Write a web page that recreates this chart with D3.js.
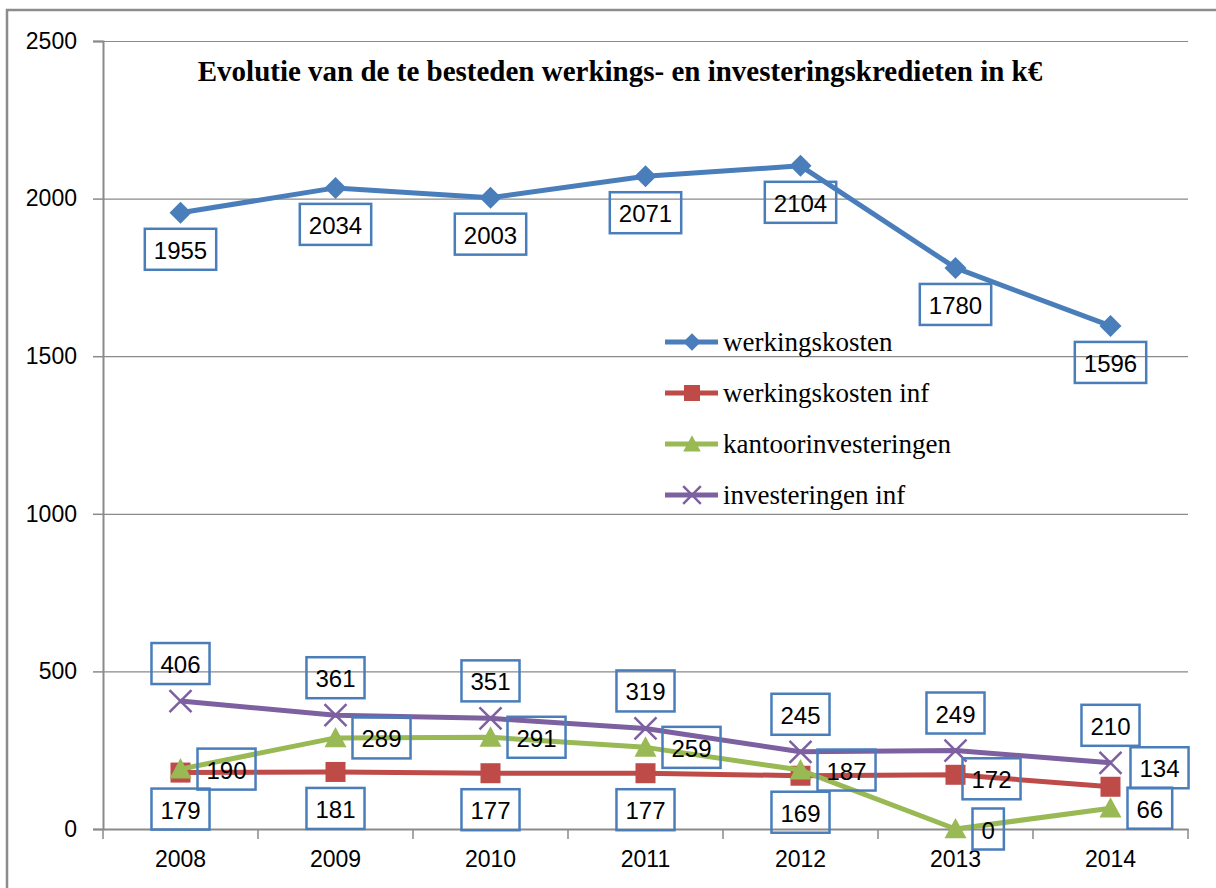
<!DOCTYPE html>
<html>
<head>
<meta charset="utf-8">
<script src="https://cdn.jsdelivr.net/npm/d3@7"></script>
<style>
  body { margin: 0; background: #ffffff; }
</style>
</head>
<body>
<svg id="chart"></svg>
<script>
// chart values
const years = ["2008", "2009", "2010", "2011", "2012", "2013", "2014"];
const werkingskosten = [1955, 2034, 2003, 2071, 2104, 1780, 1596];
const werkingskostenInf = [179, 181, 177, 177, 169, 172, 134];
const kantoorinvesteringen = [190, 289, 291, 259, 187, 0, 66];
const investeringenInf = [406, 361, 351, 319, 245, 249, 210];
const seriesNames = ["werkingskosten", "werkingskosten inf", "kantoorinvesteringen", "investeringen inf"];
const yTicks = [0, 500, 1000, 1500, 2000, 2500];
const title = "Evolutie van de te besteden werkings- en investeringskredieten in k€";

const width = 1216, height = 888;
const margin = {top: 41, bottom: 59, left: 103, right: 28};

const svg = d3.select("#chart")
    .attr("width", width)
    .attr("height", height)
    .style("background", "#ffffff");

// outer chart border (runs off right/bottom like the original)
svg.append("rect")
    .attr("x", 7).attr("y", 10)
    .attr("width", width + 20).attr("height", height + 20)
    .attr("fill", "none")
    .attr("stroke", "#8c8c8c")
    .attr("stroke-width", 2.5);

const xScale = d3.scaleBand()
    .domain(years)
    .range([margin.left, width - margin.right])
    .paddingInner(0).paddingOuter(0);
const xc = d => xScale(d) + xScale.bandwidth() / 2;

const yScale = d3.scaleLinear()
    .domain([0, 2500])
    .range([height - margin.bottom, margin.top]);

// gridlines
svg.append("g")
    .attr("transform", `translate(${margin.left},0)`)
    .call(d3.axisLeft(yScale).tickValues(yTicks.slice(1)).tickSize(-(width - margin.left - margin.right)).tickFormat(""))
    .call(g => g.select(".domain").remove())
    .call(g => g.selectAll("line").attr("stroke", "#8a8a8a").attr("stroke-width", 1.2));

// y axis
svg.append("g")
    .attr("transform", `translate(${margin.left},0)`)
    .call(d3.axisLeft(yScale).tickValues(yTicks).tickSize(10).tickPadding(16).tickFormat(d3.format("d")))
    .call(g => g.select(".domain").attr("stroke", "#8a8a8a").attr("stroke-width", 2))
    .call(g => g.selectAll("line").attr("stroke", "#8a8a8a").attr("stroke-width", 1.5))
    .call(g => g.selectAll("text")
        .style("font-family", "'Liberation Sans', Arial, sans-serif")
        .style("font-size", "23px")
        .attr("fill", "#000"));

// x axis (labels at centers, ticks between categories)
const xAxis = svg.append("g")
    .attr("transform", `translate(0,${height - margin.bottom})`)
    .call(d3.axisBottom(xScale).tickSize(0).tickPadding(22))
    .call(g => g.select(".domain").attr("stroke", "#8a8a8a").attr("stroke-width", 2))
    .call(g => g.selectAll("text")
        .style("font-family", "'Liberation Sans', Arial, sans-serif")
        .style("font-size", "23px")
        .attr("fill", "#000"));
const boundaries = years.map(d => xScale(d)).concat([xScale.range()[1]]);
xAxis.selectAll("line.bound")
    .data(boundaries)
    .join("line")
    .attr("class", "bound")
    .attr("x1", d => d).attr("x2", d => d)
    .attr("y1", 0).attr("y2", 10)
    .attr("stroke", "#8a8a8a").attr("stroke-width", 1.5);

// title
svg.append("text")
    .attr("x", 620)
    .attr("y", 81)
    .attr("text-anchor", "middle")
    .style("font-family", "'Liberation Serif', 'Times New Roman', serif")
    .style("font-weight", "bold")
    .style("font-size", "29px")
    .text(title);

// markers
function marker(g, type, color, s) {
  if (type === "diamond") {
    g.append("path").attr("d", `M0,${-s}L${s},0L0,${s}L${-s},0Z`).attr("fill", color);
  } else if (type === "square") {
    g.append("rect").attr("x", -s).attr("y", -s).attr("width", 2 * s).attr("height", 2 * s).attr("fill", color);
  } else if (type === "triangle") {
    g.append("path").attr("d", `M0,${-s}L${s},${s * 0.85}L${-s},${s * 0.85}Z`).attr("fill", color);
  } else if (type === "x") {
    g.append("path").attr("d", `M${-s},${-s}L${s},${s}M${-s},${s}L${s},${-s}`)
      .attr("stroke", color).attr("stroke-width", 2.5).attr("fill", "none");
  }
}

const series = [
  {name: seriesNames[0], values: werkingskosten, color: "#4a7ebb", marker: "diamond", ms: 11,
   place: ["below", "below", "below", "below", "below", "below", "below"], nudge: {}},
  {name: seriesNames[1], values: werkingskostenInf, color: "#be4b48", marker: "square", ms: 10,
   place: ["below", "below", "below", "below", "below", "right", "right"], nudge: {5: [-10, 4], 6: [3, -19]}},
  {name: seriesNames[2], values: kantoorinvesteringen, color: "#98b954", marker: "triangle", ms: 11,
   place: ["right", "right", "right", "right", "right", "right", "right"], nudge: {}},
  {name: seriesNames[3], values: investeringenInf, color: "#7d60a0", marker: "x", ms: 11,
   place: ["above", "above", "above", "above", "above", "above", "above"], nudge: {}}
];

const line = d3.line()
    .x(d => xc(d.year))
    .y(d => yScale(d.value));

series.forEach(s => {
  const data = years.map((y, i) => ({year: y, value: s.values[i]}));
  svg.append("path")
      .datum(data)
      .attr("fill", "none")
      .attr("stroke", s.color)
      .attr("stroke-width", 5)
      .attr("stroke-linejoin", "round")
      .attr("d", line);
  data.forEach(d => {
    const g = svg.append("g").attr("transform", `translate(${xc(d.year)},${yScale(d.value)})`);
    marker(g, s.marker, s.color, s.ms);
  });
});

// data labels
const labelLayer = svg.append("g");
series.forEach(s => {
  years.forEach((y, i) => {
    const px = xc(y), py = yScale(s.values[i]);
    const g = labelLayer.append("g");
    const t = g.append("text")
        .attr("text-anchor", "middle")
        .attr("dominant-baseline", "central")
        .style("font-family", "'Liberation Sans', Arial, sans-serif")
        .style("font-size", "24px")
        .text(s.values[i]);
    const w = t.node().getComputedTextLength() + 18, h = 41;
    let bx = px - w / 2, by = py + 16;
    if (s.place[i] === "above") by = py - 17 - h;
    if (s.place[i] === "right") { bx = px + 17; by = py - h / 2; }
    const n = s.nudge[i] || [0, 0];
    bx += n[0]; by += n[1];
    g.insert("rect", "text")
        .attr("x", bx).attr("y", by)
        .attr("width", w).attr("height", h)
        .attr("fill", "none")
        .attr("stroke", "#4a7ebb")
        .attr("stroke-width", 2.5);
    t.attr("x", bx + w / 2).attr("y", by + h / 2 + 1);
  });
});

// legend
const legend = svg.append("g").attr("transform", "translate(665, 342)");
series.forEach((s, i) => {
  const row = legend.append("g").attr("transform", `translate(0,${i * 51})`);
  row.append("line")
      .attr("x1", 0).attr("x2", 53)
      .attr("stroke", s.color).attr("stroke-width", 5);
  const m = row.append("g").attr("transform", "translate(27,0)");
  marker(m, s.marker, s.color, s.ms * 0.8);
  row.append("text")
      .attr("x", 58)
      .attr("y", 9)
      .style("font-family", "'Liberation Serif', 'Times New Roman', serif")
      .style("font-size", "27px")
      .text(s.name);
});
</script>
</body>
</html>
